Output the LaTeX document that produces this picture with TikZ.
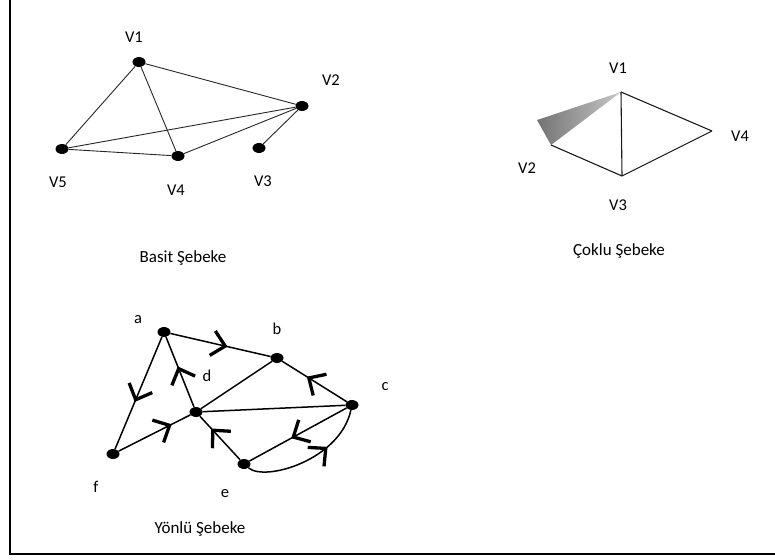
\documentclass[tikz,border=0pt]{standalone}
\usepackage{fontspec}
\setmainfont{Carlito}
\usetikzlibrary{shapes.geometric,arrows.meta,decorations.markings}
\tikzset{
 chev/.tip={Straight Barb[length=13pt,width=25pt,line width=3.3pt]},
 dot/.style={ellipse, fill=black, minimum width=13pt, minimum height=10pt, inner sep=0pt},
 lbl/.style={anchor=base, inner sep=0pt, font=\fontsize{16.5}{19}\selectfont},
 captxt/.style={anchor=base, inner sep=0pt, font=\fontsize{17}{20}\selectfont},
 sedge/.style={draw=black!85, line width=0.9pt},
 medge/.style={draw=black!90, line width=1.1pt},
 dedge/.style={draw=black, line width=1.5pt},
 arrat/.style={postaction={decorate, decoration={markings, mark=at position #1 with {\arrow{chev}}}}},
 framel/.style={line width=2.4pt}
}
\begin{document}
\begin{tikzpicture}[x=1pt,y=-1pt]
\useasboundingbox (0,0) rectangle (775,559);
% frame
\draw[framel] (10,0) -- (10,554) -- (775,554);

% ---------- Basit Sebeke ----------
\node[dot] (v1) at (139,62) {};
\node[dot] (v2) at (302,106) {};
\node[dot] (v3) at (259,148) {};
\node[dot] (v4) at (178,156) {};
\node[dot] (v5) at (62,149) {};
\draw[sedge] (v1) -- (v2);
\draw[sedge] (v1) -- (v5);
\draw[sedge] (v1) -- (v4);
\draw[sedge] (v5) -- (v2);
\draw[sedge] (v5) -- (v4);
\draw[sedge] (v4) -- (v2);
\draw[sedge] (v3) -- (v2);
\node[lbl] (lv1) at (134,43) {V1};
\node[lbl] (lv2) at (331,85) {V2};
\node[lbl] (lv3) at (263,186) {V3};
\node[lbl] (lv4) at (176,195) {V4};
\node[lbl] (lv5) at (58,187) {V5};
\node[captxt] (cap1) at (183,262) {Basit Şebeke};

% ---------- Coklu Sebeke ----------
\coordinate (m1) at (621,92);
\coordinate (m2) at (551,145);
\coordinate (m3) at (622,176);
\coordinate (m4) at (712,131);
\coordinate (mp) at (537,120);
\shade[left color=black!55, right color=black!22] (m1) -- (mp) -- (m2) -- cycle;
\draw[medge] (m2) -- (m3);
\draw[medge] (m3) -- (m1);
\draw[medge] (m1) -- (m4);
\draw[medge] (m4) -- (m3);
\node[lbl] (lm1) at (618,74) {V1};
\node[lbl] (lm4) at (740,141) {V4};
\node[lbl] (lm2) at (527,173) {V2};
\node[lbl] (lm3) at (618,210) {V3};
\node[captxt] (cap2) at (619,255) {Çoklu Şebeke};

% ---------- Yonlu Sebeke ----------
\node[dot] (a) at (164,332) {};
\node[dot] (b) at (277,358) {};
\node[dot] (c) at (352,405) {};
\node[dot] (d) at (196,412) {};
\node[dot] (e) at (244,464) {};
\node[dot] (f) at (113,454) {};
\draw[dedge, arrat=0.57] (a) -- (b);
\draw[dedge, arrat=0.58] (a) -- (f);
\draw[dedge, arrat=0.58] (d) -- (a);
\draw[dedge, arrat=0.74] (f) -- (d);
\draw[dedge] (d) -- (b);
\draw[dedge, arrat=0.62] (c) -- (b);
\draw[dedge] (d) -- (c);
\draw[dedge, arrat=0.72] (e) -- (d);
\draw[dedge, arrat=0.57] (c) -- (e);
\draw[dedge, arrat=0.66] (e) .. controls (265,482) and (340,460) .. (c);
\node[lbl] (la) at (138,323) {a};
\node[lbl] (lb) at (277,334) {b};
\node[lbl] (lc) at (385,390) {c};
\node[lbl] (ld) at (207,381) {d};
\node[lbl] (le) at (225,497) {e};
\node[lbl] (lf) at (96,492) {f};
\node[captxt] (cap3) at (200,533) {Yönlü Şebeke};
\end{tikzpicture}
\end{document}
